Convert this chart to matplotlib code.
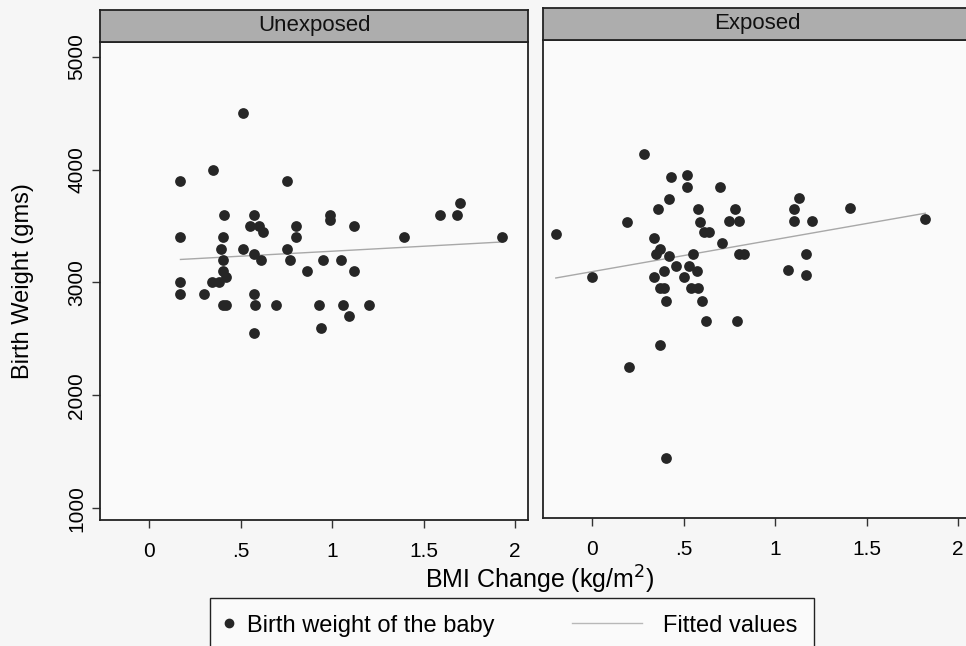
import numpy as np
import matplotlib.pyplot as plt
from matplotlib.lines import Line2D
from matplotlib.legend_handler import HandlerBase

plt.rcParams['font.family'] = ['Liberation Sans', 'DejaVu Sans']

# BMI change (kg/m^2) and birth weight (gms)
unexp_bmi = [0.51, 0.35, 0.17, 0.75, 1.70, 1.59, 1.68, 0.41, 0.57, 0.99, 0.99,
             0.55, 0.60, 0.62, 0.80, 0.80, 1.12, 0.17, 0.40, 1.39, 1.93,
             0.39, 0.51, 0.75, 0.57, 0.61, 0.40, 0.77, 0.95, 1.05, 0.86,
             1.12, 0.40, 0.42, 0.17, 0.34, 0.38, 0.17, 0.30, 0.57, 0.40,
             0.42, 0.58, 0.69, 0.93, 1.06, 1.20, 1.09, 0.94, 0.57]
unexp_bw = [4500, 4000, 3900, 3900, 3700, 3600, 3600, 3600, 3600, 3600, 3550,
            3500, 3500, 3450, 3500, 3400, 3500, 3400, 3400, 3400, 3400,
            3300, 3300, 3300, 3250, 3200, 3200, 3200, 3200, 3200, 3100,
            3100, 3100, 3050, 3000, 3000, 3000, 2900, 2900, 2900, 2800,
            2800, 2800, 2800, 2800, 2800, 2800, 2700, 2600, 2550]

exp_bmi = [0.28, 0.43, 0.52, 0.52, 0.70, 1.13, 0.42, 0.36, 0.575, 0.78, 1.10,
           1.41, 0.19, 0.59, 0.745, 0.80, 1.10, 1.20, 1.82, -0.20, 0.61, 0.635,
           0.335, 0.71, 0.37, 0.35, 0.42, 0.55, 0.80, 0.83, 1.17, 0.455,
           0.53, 0.57, 1.07, 1.17, 0.0, 0.335, 0.39, 0.50, 0.37, 0.39,
           0.54, 0.575, 0.40, 0.60, 0.62, 0.79, 0.37, 0.20, 0.40]
exp_bw = [4120, 3920, 3930, 3830, 3830, 3730, 3720, 3630, 3630, 3630, 3630,
          3640, 3520, 3520, 3530, 3530, 3530, 3530, 3540, 3410, 3430, 3430,
          3380, 3330, 3280, 3230, 3220, 3230, 3230, 3230, 3230, 3130,
          3130, 3080, 3090, 3045, 3030, 3030, 3080, 3030, 2930, 2930,
          2930, 2930, 2820, 2820, 2640, 2640, 2430, 2230, 1430]

panels = ['Unexposed', 'Exposed']
x_ticks = [0, 0.5, 1, 1.5, 2]
x_labels = ['0', '.5', '1', '1.5', '2']
y_ticks = [1000, 2000, 3000, 4000, 5000]


class LongLine(HandlerBase):
    # legend sample line that reaches further left than the handle box
    def create_artists(self, legend, orig_handle, xdescent, ydescent,
                       width, height, fontsize, trans):
        y = height / 2 - ydescent
        x1 = width - xdescent - 5
        ln = Line2D([x1 - 50, x1], [y, y], color=orig_handle.get_color(),
                    lw=orig_handle.get_linewidth(), transform=trans)
        return [ln]


fig = plt.figure(figsize=(9.66, 6.46), dpi=100, facecolor='#f6f6f6')

W, H = 966, 646
boxes = [(100, 42, 428, 478), (543, 40, 428, 478)]
data = [(unexp_bmi, unexp_bw), (exp_bmi, exp_bw)]

for i, (name, (x, y), (px, py, pw, ph)) in enumerate(zip(panels, data, boxes)):
    ax = fig.add_axes([px / W, 1 - (py + ph) / H, pw / W, ph / H])
    ax.set_facecolor('#fafafa')
    x = np.array(x)
    y = np.array(y)
    ax.scatter(x, y, s=60, color='#262626', zorder=3, linewidths=0)
    slope, icpt = np.polyfit(x, y, 1)
    xx = np.array([x.min(), x.max()])
    ax.plot(xx, icpt + slope * xx, color='#a8a8a8', lw=1.0, zorder=2)
    ax.set_xlim(-0.27, 2.07)
    ax.set_ylim(895, 5130)
    ax.set_xticks(x_ticks)
    ax.set_xticklabels(x_labels, fontsize=15)
    ax.tick_params(axis='x', length=6, width=1, pad=10, color='#333333')
    if i == 0:
        ax.set_yticks(y_ticks)
        ax.set_yticklabels([str(v) for v in y_ticks], fontsize=15,
                           rotation=90, va='center')
        ax.tick_params(axis='y', length=6, width=1, pad=4, color='#333333')
        ax.set_ylabel('Birth Weight (gms)', fontsize=17, labelpad=24)
    else:
        ax.set_yticks([])
    for s in ax.spines.values():
        s.set_color('#222222')
        s.set_linewidth(1.3)

    strip = fig.add_axes([px / W, 1 - py / H, pw / W, 32 / H])
    strip.set_facecolor('#adadad')
    strip.set_xticks([])
    strip.set_yticks([])
    for s in strip.spines.values():
        s.set_color('#222222')
        s.set_linewidth(1.3)
    strip.text(0.5, 0.5, name, ha='center', va='center', fontsize=16,
               transform=strip.transAxes, color='#111111')

fig.text(540 / W, 1 - 580 / H, 'BMI Change (kg/m$^2$)', ha='center',
         va='center', fontsize=18)

dot = Line2D([], [], ls='none', marker='o', ms=6, color='#262626')
fit = Line2D([], [], color='#b8b8b8', lw=1.0)
fig.legend([dot, fit], ['Birth weight of the baby', 'Fitted values'],
           handler_map={fit: LongLine()},
           loc='upper left', bbox_to_anchor=(210 / W, 1 - 598 / H),
           ncol=2, fontsize=17, frameon=True, fancybox=False,
           edgecolor='#222222', facecolor='#fafafa', framealpha=1,
           handlelength=0.25, columnspacing=6.3, borderpad=0.7,
           borderaxespad=0, handletextpad=0.6)

fig.savefig('out.png', dpi=100, facecolor=fig.get_facecolor())
